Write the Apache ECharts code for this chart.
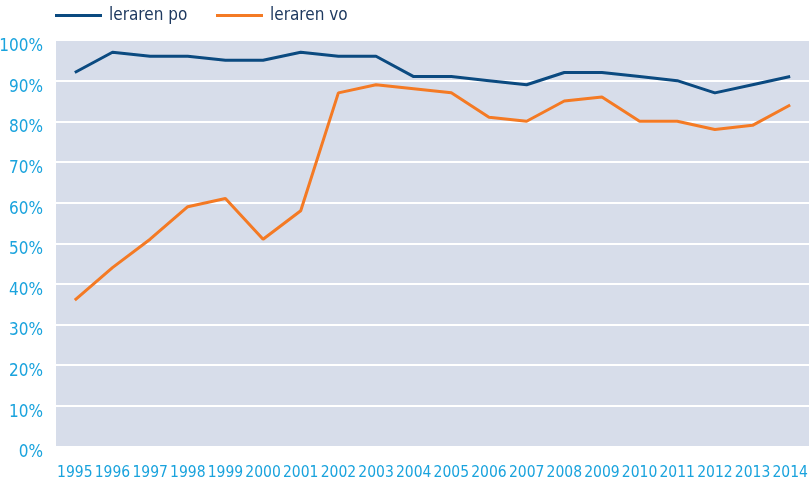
<!DOCTYPE html>
<html><head><meta charset="utf-8">
<script src="https://cdn.jsdelivr.net/npm/echarts@6/dist/echarts.min.js"></script>
<style>html,body{margin:0;padding:0;background:#fff}#c{width:809px;height:484px}</style>
</head><body><div id="c"></div>
<script>
const years = ['1995','1996','1997','1998','1999','2000','2001','2002','2003','2004','2005','2006','2007','2008','2009','2010','2011','2012','2013','2014'];
const lerarenPo = [92,97,96,96,95,95,97,96,96,91,91,90,89,92,92,91,90,87,89,91];
const lerarenVo = [36,44,51,59,61,51,58,87,89,88,87,81,80,85,86,80,80,78,79,84];
const seriesNames = ['leraren po','leraren vo'];

const font = "'DejaVu Sans Condensed','Liberation Sans Narrow',sans-serif";
const legendSize = 17;
const ctx = document.createElement('canvas').getContext('2d');
ctx.font = legendSize + 'px ' + font;
const firstW = ctx.measureText(seriesNames[0]).width;
const gap = Math.max(10, 216 - (55 + 47 + 7 + firstW));

const chart = echarts.init(document.getElementById('c'), null, {renderer:'canvas'});
chart.setOption({
  animation:false,
  legend:{
    left:55, top:7, padding:0, itemWidth:47, itemHeight:3, itemGap:gap, icon:'rect',
    textStyle:{fontFamily:font, fontSize:legendSize, color:'#1f3a60', padding:[0,0,0,2]},
    data:seriesNames
  },
  grid:{left:56, right:0, top:40, bottom:37.5, show:true, backgroundColor:'#d7ddea', borderWidth:0, containLabel:false, outerBoundsMode:'none'},
  xAxis:{
    type:'category', data:years, boundaryGap:true,
    axisLine:{show:false}, axisTick:{show:false},
    axisLabel:{fontFamily:font, fontSize:15.5, color:'#1aa3dd', margin:18, interval:0, hideOverlap:false}
  },
  yAxis:{
    type:'value', min:0, max:100, interval:10,
    axisLine:{show:false}, axisTick:{show:false},
    axisLabel:{fontFamily:font, fontSize:17, color:'#1aa3dd', margin:13, formatter:'{value}%', verticalAlign:'top', lineHeight:13},
    splitLine:{lineStyle:{color:'#ffffff', width:2}}
  },
  series:[
    {name:seriesNames[0], type:'line', data:lerarenPo, symbol:'none', lineStyle:{color:'#0b4a80', width:3}, itemStyle:{color:'#0b4a80'}},
    {name:seriesNames[1], type:'line', data:lerarenVo, symbol:'none', lineStyle:{color:'#f47a24', width:3}, itemStyle:{color:'#f47a24'}}
  ]
});
</script></body></html>
